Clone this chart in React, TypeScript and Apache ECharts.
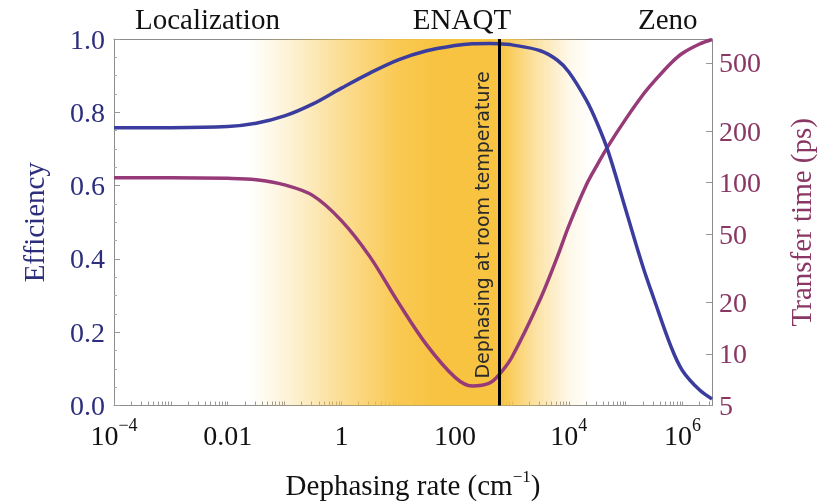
import React, { useEffect, useRef } from "react";
import * as echarts from "echarts";

// Dephasing rate (cm^-1) sample positions
const dephasingRates = [1e-4, 1e-3, 0.01, 0.0316, 0.1, 0.316, 1, 3.16, 10, 31.6, 100, 200, 400, 600, 1000, 3160, 6300, 1e4, 2e4, 31600, 5e4, 1e5, 2e5, 316000, 630000, 1e6, 2e6, 3.3e6];
// Efficiency (left axis)
const efficiency = [0.758, 0.758, 0.761, 0.77, 0.79, 0.823, 0.866, 0.907, 0.943, 0.968, 0.982, 0.987, 0.988, 0.987, 0.984, 0.968, 0.942, 0.91, 0.835, 0.77, 0.69, 0.535, 0.38, 0.29, 0.16, 0.095, 0.042, 0.018];
// Transfer time in ps (right axis, log)
const transferTime = [107, 107, 106, 104, 97, 84, 60, 37, 20, 11.3, 7.3, 6.5, 6.75, 7.6, 9.6, 21, 37, 56, 96, 127, 165, 235, 325, 390, 500, 570, 645, 685];

const xLabelValues = [1e-4, 1e-2, 1, 100, 1e4, 1e6];
const transferTickValues = [5, 10, 20, 50, 100, 200, 500];
const regionLabels = ["Localization", "ENAQT", "Zeno"];
const regionCenters = [0.0044, 132, 5.5e5];
const roomTempRate = 600;
const enaqtBand = [0.024, 2.6e4];
const roomTempLabel = "Dephasing at room temperature";

const X_MIN = 1e-4;
const X_MAX = 3.3e6;

const xTickValues: number[] = [];
for (let e = -4; e <= 6; e++) {
  for (let m = 1; m <= 9; m++) {
    const v = m * Math.pow(10, e);
    if (v >= X_MIN && v <= X_MAX) xTickValues.push(v);
  }
}

const SERIF = "Liberation Serif";
const NAVY = "#2e2f7c";
const PLUM = "#8a3763";
const BLUE_LINE = "#3b3d9e";
const PLUM_LINE = "#973a78";
const AXIS_GREY = "#8c8c8c";

export default function App() {
  const ref = useRef<HTMLDivElement>(null);
  useEffect(() => {
    const chart = echarts.init(ref.current!, null, { renderer: "svg" });
    const xFmt = (v: number) => {
      const e = Math.round(Math.log10(v));
      if (e === -2) return "{b|0.01}";
      if (e === 0) return "{b|1}";
      if (e === 2) return "{b|100}";
      return `{b|10}{s|${e < 0 ? "\u2212" + -e : e}}`;
    };
    const gradient = new echarts.graphic.LinearGradient(0, 0, 1, 0, [
      { offset: 0, color: "rgba(248,195,64,0)" },
      { offset: 0.12, color: "rgba(248,195,64,0.22)" },
      { offset: 0.25, color: "rgba(248,195,64,0.52)" },
      { offset: 0.43, color: "rgba(248,195,64,0.9)" },
      { offset: 0.55, color: "rgba(248,195,64,1)" },
      { offset: 0.73, color: "rgba(248,195,64,1)" },
      { offset: 0.83, color: "rgba(248,195,64,0.5)" },
      { offset: 0.93, color: "rgba(248,195,64,0.12)" },
      { offset: 1, color: "rgba(248,195,64,0)" },
    ]);
    chart.setOption({
      animation: false,
      grid: { left: 114, right: 107, top: 39, bottom: 93 },
      xAxis: [
        {
          type: "log",
          logBase: 10,
          min: X_MIN,
          max: X_MAX,
          name: "Dephasing rate (cm{s|\u22121})",
          nameLocation: "middle",
          nameGap: 62,
          nameTextStyle: {
            fontFamily: SERIF,
            fontSize: 29,
            color: "#111",
            rich: {
              s: { fontFamily: SERIF, fontSize: 17, color: "#111", verticalAlign: "top", lineHeight: 34 },
            },
          },
          axisLine: { lineStyle: { color: AXIS_GREY, width: 1 } },
          axisTick: { inside: true, length: 4, customValues: xTickValues, lineStyle: { color: "#999" } },
          axisLabel: {
            customValues: xLabelValues,
            formatter: xFmt,
            margin: 10,
            rich: {
              b: { fontFamily: SERIF, fontSize: 28, color: "#111", lineHeight: 34, verticalAlign: "bottom" },
              s: { fontFamily: SERIF, fontSize: 18, color: "#111", lineHeight: 34, verticalAlign: "top" },
            },
          },
          splitLine: { show: false },
        },
        {
          type: "log",
          logBase: 10,
          min: X_MIN,
          max: X_MAX,
          position: "top",
          axisLine: { show: true, lineStyle: { color: AXIS_GREY, width: 1 } },
          axisTick: { show: false },
          axisLabel: { show: false },
          splitLine: { show: false },
        },
      ],
      yAxis: [
        {
          type: "value",
          min: 0,
          max: 1,
          interval: 0.2,
          position: "left",
          name: "Efficiency",
          nameLocation: "middle",
          nameRotate: 90,
          nameGap: 66,
          nameTextStyle: { fontFamily: SERIF, fontSize: 29, color: NAVY },
          axisLine: { show: true, lineStyle: { color: AXIS_GREY, width: 1 } },
          axisTick: { inside: true, length: 6, lineStyle: { color: "#999" } },
          minorTick: { show: true, splitNumber: 4, length: 3, lineStyle: { color: "#aaa" } },
          axisLabel: {
            fontFamily: SERIF,
            fontSize: 28,
            color: NAVY,
            margin: 9,
            formatter: (v: number) => v.toFixed(1),
          },
          splitLine: { show: false },
        },
        {
          type: "log",
          logBase: 10,
          min: 5,
          max: 690,
          position: "right",
          name: "Transfer time (ps)",
          nameLocation: "middle",
          nameRotate: 90,
          nameGap: 74,
          nameTextStyle: { fontFamily: SERIF, fontSize: 29, color: PLUM },
          axisLine: { show: true, lineStyle: { color: AXIS_GREY, width: 1 } },
          axisTick: { inside: true, length: 6, customValues: transferTickValues, lineStyle: { color: "#999" } },
          axisLabel: {
            customValues: transferTickValues,
            fontFamily: SERIF,
            fontSize: 28,
            color: PLUM,
            margin: 7,
          },
          splitLine: { show: false },
          minorTick: { show: false },
        },
      ],
      series: [
        {
          name: "Efficiency",
          type: "line",
          xAxisIndex: 0,
          yAxisIndex: 0,
          data: dephasingRates.map((x, i) => [x, efficiency[i]]),
          showSymbol: false,
          smooth: 0.35,
          lineStyle: { color: BLUE_LINE, width: 3.5 },
          z: 4,
          markArea: {
            silent: true,
            itemStyle: { color: gradient },
            data: [[{ xAxis: enaqtBand[0] }, { xAxis: enaqtBand[1] }]],
          },
        },
        {
          name: "Transfer time",
          type: "line",
          xAxisIndex: 0,
          yAxisIndex: 1,
          data: dephasingRates.map((x, i) => [x, transferTime[i]]),
          showSymbol: false,
          smooth: 0.35,
          lineStyle: { color: PLUM_LINE, width: 3.5 },
          z: 3,
          markLine: {
            silent: true,
            symbol: "none",
            label: { show: false },
            lineStyle: { color: "#000", width: 3, type: "solid" },
            data: [{ xAxis: roomTempRate }],
          },
        },
      ],
    });

    const px = (v: number) => chart.convertToPixel({ xAxisIndex: 0 }, v) as number;
    const top = 39;
    const bottom = 504 - 93;
    chart.setOption({
      graphic: [
        ...regionLabels.map((t, i) => ({
          type: "text",
          x: px(regionCenters[i]),
          y: 19,
          style: { text: t, fontFamily: SERIF, fontSize: 29, fill: "#111", align: "center", verticalAlign: "middle" },
          z: 10,
        })),
        {
          type: "text",
          x: px(roomTempRate) - 17,
          y: (top + bottom) / 2,
          rotation: Math.PI / 2,
          style: {
            text: roomTempLabel,
            fontFamily: "DejaVu Sans",
            fontSize: 19,
            fill: "#2a2a2a",
            align: "center",
            verticalAlign: "middle",
          },
          z: 10,
        },
      ],
    });

    return () => chart.dispose();
  }, []);
  return <div ref={ref} style={{ position: "fixed", left: 0, top: 0, width: 823, height: 504 }} />;
}
